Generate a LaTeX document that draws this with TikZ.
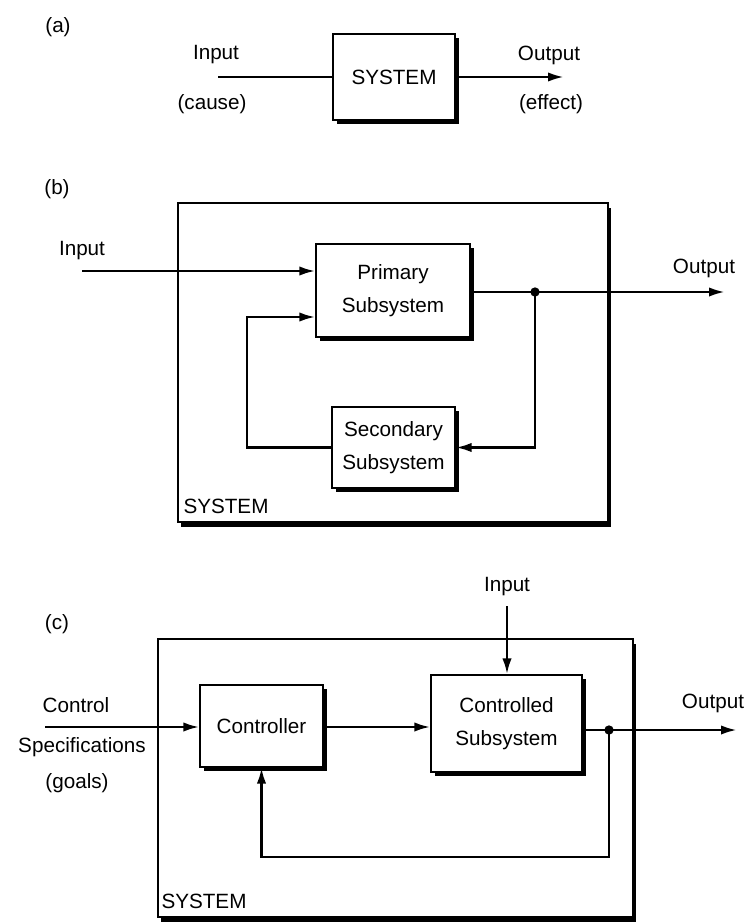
\documentclass[tikz,border=0pt]{standalone}
\usepackage{fontspec}
\setmainfont{Liberation Sans}
\usetikzlibrary{arrows.meta,shadows,positioning}
\tikzstyle{block} = [rectangle, draw, line width=0.9pt, fill=white, align=center,
  drop shadow={shadow xshift=3pt, shadow yshift=-3pt, fill=black, opacity=1}]
\tikzstyle{frame} = [rectangle, draw, line width=0.9pt, fill=white,
  drop shadow={shadow xshift=2.5pt, shadow yshift=-4pt, fill=black, opacity=1}]
\tikzstyle{link} = [line width=2pt, -{Latex[length=12pt,width=7pt]}]
\tikzstyle{wire} = [line width=2pt]
\tikzstyle{junction} = [circle, fill=black, inner sep=0pt, minimum size=7pt]
\tikzstyle{tag} = [inner sep=1pt, align=center]

\begin{document}
\begin{tikzpicture}[x=0.75pt, y=-0.75pt, font=\fontsize{15.5}{24.5}\selectfont]
                    \useasboundingbox (0,0) rectangle (747,924);

                    % (a)
                    \node[tag] (lbla) at (58,27) {(a)};
                    \node[block, minimum width=91.5pt, minimum height=64.5pt] (sysa) at (394,77) {SYSTEM};
                    \coordinate (ina) at (218,77);
                    \coordinate (outa) at (564,77);
                    \draw[wire] (ina) -- (sysa.west);
                    \draw[link] (sysa.east) -- (outa);
                    \node[tag] (inputa) at (216,55) {Input};
                    \node[tag] (causea) at (212,104) {(cause)};
                    \node[tag] (outputa) at (549,55) {Output};
                    \node[tag] (effecta) at (551,104) {(effect)};

                    % (b)
                    \node[tag] (lblb) at (57,189) {(b)};
                    \node[frame, minimum width=322.5pt, minimum height=239.25pt] (sysb) at (393,362.5) {};
                    \node[tag] (namesb) at (226,506) {SYSTEM};
                    \node[block, minimum width=115.5pt, minimum height=69.75pt] (prim) at (393,290.5) {Primary\\Subsystem};
                    \node[block, minimum width=92.25pt, minimum height=60.75pt] (sec) at (393.5,447.5) {Secondary\\Subsystem};
                    \coordinate (inb) at (82,271);
                    \coordinate (fbb) at (247,317);
                    \coordinate (outb) at (725,292);
                    \node[junction] (dotb) at (535,292) {};
                    \draw[link] (inb) -- (inb -| prim.west);
                    \draw[link] (prim.east |- outb) -- (outb);
                    \draw[link] (dotb.center) |- (sec.east);
                    \draw[link] (sec.west) -| (fbb) -- (fbb -| prim.west);
                    \node[tag] (inputb) at (82,251) {Input};
                    \node[tag] (outputb) at (704,268) {Output};

                    % (c)
                    \node[tag] (lblc) at (57,624) {(c)};
                    \node[frame, minimum width=356.25pt, minimum height=208.5pt] (sysc) at (395.5,778) {};
                    \node[tag] (namesc) at (204,901) {SYSTEM};
                    \node[block, minimum width=92.25pt, minimum height=61.5pt] (ctrl) at (261.5,726) {Controller};
                    \node[block, minimum width=113.25pt, minimum height=72.75pt] (ctld) at (506.5,723.5) {Controlled\\Subsystem};
                    \coordinate (specc) at (45,727);
                    \coordinate (inc) at (507,606);
                    \coordinate (outc) at (737,730);
                    \coordinate (fbc) at (609,857);
                    \node[junction] (dotc) at (609,730) {};
                    \draw[link] (specc) -- (ctrl.west |- specc);
                    \draw[link] (ctrl.east |- specc) -- (ctld.west |- specc);
                    \draw[link] (inc) -- (inc |- ctld.north);
                    \draw[link] (ctld.east |- outc) -- (outc);
                    \draw[link] (dotc.center) -- (fbc) -| (ctrl.south);
                    \node[tag] (inputc) at (507,587) {Input};
                    \node[tag] (outputc) at (713,703) {Output};
                    \node[tag] (ctrlspec) at (76,705) {Control};
                    \node[tag] (specs) at (82,747) {Specifications};
                    \node[tag] (goals) at (77,783) {(goals)};
                \end{tikzpicture}
\end{document}
